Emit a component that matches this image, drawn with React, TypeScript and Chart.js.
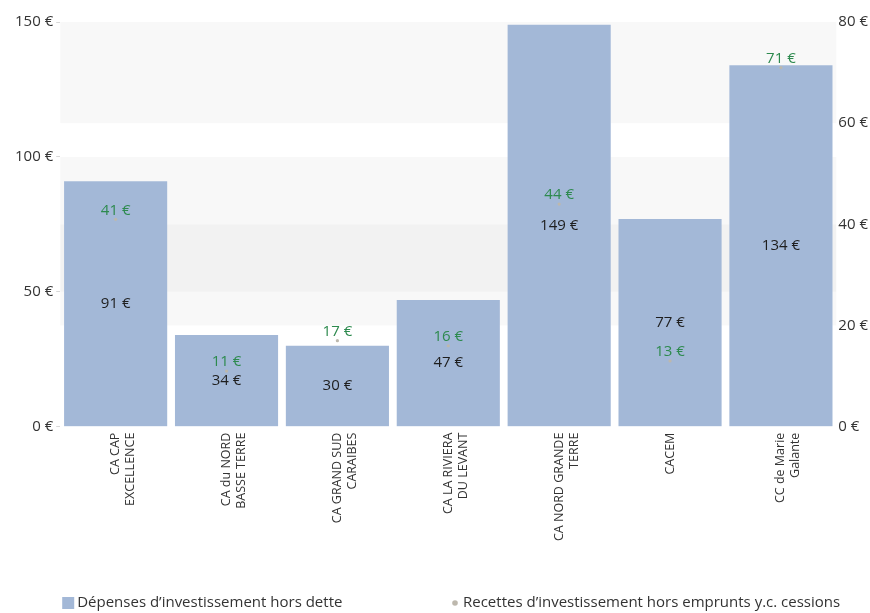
import React, { useEffect, useRef } from "react";
import { Chart, registerables } from "chart.js";

Chart.register(...registerables);

const categories: string[][] = [
  ["CA CAP", "EXCELLENCE"],
  ["CA du NORD", "BASSE TERRE"],
  ["CA GRAND SUD", "CARAIBES"],
  ["CA LA RIVIERA", "DU LEVANT"],
  ["CA NORD GRANDE", "TERRE"],
  ["CACEM"],
  ["CC de Marie", "Galante"],
];
const depenses: number[] = [91, 34, 30, 47, 149, 77, 134];
const recettes: number[] = [41, 11, 17, 16, 44, 13, 71];
const leftTicks: number[] = [0, 50, 100, 150];
const rightTicks: number[] = [0, 20, 40, 60, 80];
const seriesNames: string[] = [
  "Dépenses d’investissement hors dette",
  "Recettes d’investissement hors emprunts y.c. cessions",
];

const BAR_COLOR = "#a3b8d7";
const DOT_COLOR = "#bdb8ad";
const GREEN = "#2d8a4e";
const FONT = "'Open Sans', 'Noto Sans', sans-serif";

const bandsPlugin = {
  id: "bands",
  beforeDatasetsDraw(chart: any) {
    const { ctx, chartArea } = chart;
    ctx.save();
    ["y", "y2"].forEach((id) => {
      const sc = chart.scales[id];
      const t = sc.ticks;
      for (let i = 0; i < t.length - 1; i++) {
        if (i % 2 === 1) {
          const y1 = sc.getPixelForValue(t[i].value);
          const y2 = sc.getPixelForValue(t[i + 1].value);
          ctx.fillStyle = "rgba(0,0,0,0.028)";
          ctx.fillRect(chartArea.left, y2, chartArea.right - chartArea.left, y1 - y2);
        }
      }
    });
    ctx.restore();
  },
};

const labelsPlugin = {
  id: "valueLabels",
  afterDatasetsDraw(chart: any) {
    const { ctx } = chart;
    ctx.save();
    ctx.font = `15px ${FONT}`;
    ctx.textAlign = "center";
    ctx.textBaseline = "middle";
    const m0 = chart.getDatasetMeta(0);
    m0.data.forEach((el: any, i: number) => {
      ctx.fillStyle = "#1e1e1e";
      ctx.fillText(`${depenses[i]} €`, el.x, (el.y + el.base) / 2);
    });
    const m1 = chart.getDatasetMeta(1);
    m1.data.forEach((el: any, i: number) => {
      ctx.fillStyle = GREEN;
      ctx.fillText(`${recettes[i]} €`, el.x, el.y - 9);
    });
    ctx.restore();
  },
};

const legendPlugin = {
  id: "customLegend",
  afterDraw(chart: any) {
    const { ctx, chartArea, height, width } = chart;
    const y = height - 10;
    ctx.save();
    ctx.font = `15px ${FONT}`;
    ctx.textBaseline = "middle";
    ctx.textAlign = "left";
    ctx.fillStyle = BAR_COLOR;
    const x1 = chartArea.left + 2;
    ctx.fillRect(x1, y - 6, 12, 12);
    ctx.fillStyle = "#333";
    ctx.fillText(chart.data.datasets[0].label, x1 + 15, y);
    const x2 = width / 2 + 20;
    ctx.fillStyle = DOT_COLOR;
    ctx.beginPath();
    ctx.arc(x2, y, 2.8, 0, Math.PI * 2);
    ctx.fill();
    ctx.fillStyle = "#333";
    ctx.fillText(chart.data.datasets[1].label, x2 + 8, y);
    ctx.restore();
  },
};

export default function App() {
  const ref = useRef<HTMLCanvasElement>(null);
  useEffect(() => {
    if (!ref.current) return;
    const chart = new Chart(ref.current, {
      data: {
        labels: categories,
        datasets: [
          {
            type: "bar",
            label: seriesNames[0],
            data: depenses,
            backgroundColor: BAR_COLOR,
            yAxisID: "y",
            categoryPercentage: 0.93,
            barPercentage: 1,
            order: 2,
          },
          {
            type: "line",
            label: seriesNames[1],
            data: recettes,
            showLine: false,
            pointRadius: 1.6,
            pointBackgroundColor: DOT_COLOR,
            pointBorderWidth: 0,
            borderColor: DOT_COLOR,
            yAxisID: "y2",
            order: 1,
          },
        ] as any,
      },
      options: {
        animation: false,
        responsive: true,
        maintainAspectRatio: false,
        layout: { padding: { top: 22, bottom: 66, left: 12, right: 0 } },
        plugins: {
          legend: { display: false },
          tooltip: { enabled: false },
        },
        scales: {
          x: {
            grid: { display: false, drawTicks: false },
            border: { display: false },
            ticks: {
              minRotation: 90,
              maxRotation: 90,
              autoSkip: false,
              color: "#333",
              padding: 6,
              font: { family: FONT, size: 12.5 },
            },
          },
          y: {
            position: "left",
            min: 0,
            max: 150,
            afterBuildTicks: (s: any) => {
              s.ticks = leftTicks.map((v) => ({ value: v }));
            },
            grid: { drawOnChartArea: false, tickLength: 4, color: "#d8d8d8" },
            border: { display: false },
            ticks: {
              color: "#333",
              padding: 3,
              font: { family: FONT, size: 15 },
              callback: (v: any) => `${v} €`,
            },
          },
          y2: {
            position: "right",
            min: 0,
            max: 80,
            afterBuildTicks: (s: any) => {
              s.ticks = rightTicks.map((v) => ({ value: v }));
            },
            grid: { drawOnChartArea: false, drawTicks: false },
            border: { display: false },
            ticks: {
              color: "#333",
              padding: 2,
              font: { family: FONT, size: 15 },
              callback: (v: any) => `${v} €`,
            },
          },
        },
      } as any,
      plugins: [bandsPlugin, labelsPlugin, legendPlugin],
    });
    return () => chart.destroy();
  }, []);
  return (
    <div style={{ position: "fixed", left: 0, top: 0, width: 870, height: 613, background: "#fff" }}>
      <canvas ref={ref} />
    </div>
  );
}
